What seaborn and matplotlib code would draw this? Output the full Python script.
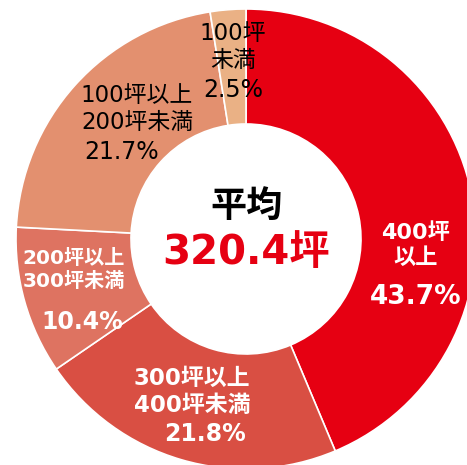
import matplotlib.pyplot as plt
import seaborn as sns

# floor-area brackets, clockwise from 12 o'clock
labels = ['400坪\n以上', '300坪以上\n400坪未満', '200坪以上\n300坪未満', '100坪以上\n200坪未満', '100坪\n未満']
shares = [43.7, 21.8, 10.4, 21.7, 2.5]
colors = ['#E60012', '#D94F43', '#DE7361', '#E3906F', '#EAB185']
average = 320.4

sns.set_theme(style='white')
plt.rcParams['font.family'] = ['DejaVu Sans', 'Noto Sans CJK JP']

fig = plt.figure(figsize=(4.67, 4.65), dpi=100)
ax = fig.add_axes([0, 0, 1, 1])

# pixel geometry -> data coords (radius 1 == 230 px)
R = 230.0
cx, cy = 246, 239
ax.pie(shares, colors=colors, startangle=90, counterclock=False, radius=1,
       wedgeprops=dict(width=0.5, edgecolor='white', linewidth=1.2))
ax.set_xlim(-cx / R, (467 - cx) / R)
ax.set_ylim(-(465 - cy) / R, cy / R)
ax.set_aspect('equal')
ax.axis('off')

def px(x, y):
    return (x - cx) / R, (cy - y) / R

def label(x, y, s, color, size, weight='normal'):
    ax.text(*px(x, y), s, ha='center', va='center', color=color,
            fontsize=size, fontweight=weight, linespacing=1.25)

# slice labels
label(416, 245, labels[0], 'white', 16, 'bold')
label(416, 297, f'{shares[0]}%', 'white', 19, 'bold')

label(192, 392, labels[1], 'white', 16.5, 'bold')
label(205, 434, f'{shares[1]}%', 'white', 17, 'bold')

label(74, 270, labels[2], 'white', 14.5, 'bold')
label(82, 322, f'{shares[2]}%', 'white', 17, 'bold')

label(137, 109, labels[3], 'black', 16.5)
label(122, 152, f'{shares[3]}%', 'black', 17)

label(233, 47, labels[4], 'black', 16.5)
label(233, 90, f'{shares[4]}%', 'black', 17)

# centre text
label(246, 207, '平均', 'black', 26, 'bold')
label(246, 253, f'{average}坪', '#E60012', 29, 'bold')

fig.savefig('out.png', dpi=100)
